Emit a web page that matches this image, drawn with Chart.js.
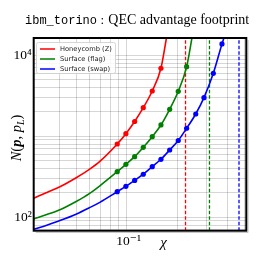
<!DOCTYPE html>
<html><head><meta charset="utf-8">
<script src="https://cdn.jsdelivr.net/npm/chart.js@4"></script>
<style>html,body{margin:0;padding:0;background:#fff}#wrap{width:268px;height:259px;position:relative}</style>
</head><body><div id="wrap"><canvas id="c"></canvas></div>
<script>
// ---- data ----
const seriesLabels = ['Honeycomb (Z)', 'Surface (flag)', 'Surface (swap)'];
const seriesColors = ['#ff0000', '#008000', '#0000ff'];

const markerChi = [0.0879, 0.0990, 0.1116, 0.1256, 0.1420, 0.1600, 0.1803, 0.2028, 0.2275, 0.2576, 0.2884, 0.3278, 0.3690];
const honeycombMarkerN = [803, 1077, 1523, 2255, 3624, 6918];
const flagMarkerN = [366, 451, 560, 731, 989, 1380, 2154, 3594, 7230];
const swapMarkerN = [207, 241, 285, 340, 421, 520, 677, 887, 1256, 1885, 2998, 5995, 13800];

const honeycombCurveChi = [0.028, 0.0335, 0.0401, 0.0504, 0.0600, 0.0693, 0.0879, 0.0990, 0.1116, 0.1256, 0.1420, 0.1600, 0.1738];
const honeycombCurveN = [172, 202, 238, 310, 390, 490, 803, 1077, 1523, 2255, 3624, 6918, 17810];
const flagCurveChi = [0.028, 0.0335, 0.0401, 0.0504, 0.0600, 0.0693, 0.0879, 0.0990, 0.1116, 0.1256, 0.1420, 0.1600, 0.1803, 0.2028, 0.2275, 0.2464];
const flagCurveN = [95.3, 108, 124, 158, 196, 245, 366, 451, 560, 731, 989, 1380, 2154, 3594, 7230, 17810];
const swapCurveChi = [0.028, 0.0335, 0.0401, 0.0504, 0.0600, 0.0693, 0.0879, 0.0990, 0.1116, 0.1256, 0.1420, 0.1600, 0.1803, 0.2028, 0.2275, 0.2576, 0.2884, 0.3278, 0.3690, 0.382];
const swapCurveN = [71.1, 80, 91, 110, 131, 153, 207, 241, 285, 340, 421, 520, 677, 887, 1256, 1885, 2998, 5995, 13800, 17300];

const thresholdChi = [0.224, 0.311, 0.466];

const xMin = 0.028, xMax = 0.515, yMin = 68.3, yMax = 16350;
const xTickValues = [0.04, 0.05, 0.06, 0.07, 0.08, 0.09, 0.1, 0.2, 0.3, 0.4, 0.5];
const yTickValues = [70, 80, 90, 100, 200, 300, 400, 500, 600, 700, 800, 900, 1000, 2000, 3000, 4000, 5000, 6000, 7000, 8000, 9000, 10000];
const xTickLabels = {0.1: '10\u207B\u00B9'};
const yTickLabels = {100: '10\u00B2', 10000: '10\u2074'};

// ---- build datasets ----
const pts = (xs, ys) => xs.map((x, i) => ({x, y: ys[i]})).filter(p => p.y !== undefined);
const curves = [[honeycombCurveChi, honeycombCurveN], [flagCurveChi, flagCurveN], [swapCurveChi, swapCurveN]];
const markers = [honeycombMarkerN, flagMarkerN, swapMarkerN];
const datasets = [];
thresholdChi.forEach((t, i) => datasets.push({
  data: [{x: t, y: yMin}, {x: t, y: yMax}], borderColor: seriesColors[i], backgroundColor: seriesColors[i],
  borderWidth: 1.3, borderDash: [3.5, 2], pointRadius: 0, fill: false, order: 5
}));
curves.forEach((c, i) => datasets.push({
  label: seriesLabels[i], data: pts(c[0], c[1]), borderColor: seriesColors[i], backgroundColor: seriesColors[i],
  borderWidth: 1.6, pointRadius: 0, cubicInterpolationMode: 'monotone', fill: false, order: 2
}));
markers.forEach((m, i) => datasets.push({
  data: pts(markerChi.slice(0, m.length), m), showLine: false, pointRadius: 2.6,
  pointBackgroundColor: seriesColors[i], pointBorderWidth: 0, borderColor: seriesColors[i], order: 1
}));

const serif = '"Liberation Serif", "DejaVu Serif", serif';

const decor = {
  id: 'decor',
  afterDatasetsDraw(chart) {
    const ctx = chart.ctx, a = chart.chartArea;
    ctx.save();
    // faint outer shadow line + frame
    ctx.strokeStyle = 'rgba(0,0,0,0.22)'; ctx.lineWidth = 1;
    ctx.beginPath(); ctx.moveTo(a.right + 1.8, a.top + 2); ctx.lineTo(a.right + 1.8, a.bottom + 1.8); ctx.lineTo(a.left + 2, a.bottom + 1.8); ctx.stroke();
    ctx.strokeStyle = '#000'; ctx.lineWidth = 2;
    ctx.strokeRect(a.left, a.top, a.right - a.left, a.bottom - a.top);
    // legend
    const lx = 36.5, ly = 42.5, lw = 79, lh = 31;
    ctx.beginPath();
    ctx.roundRect(lx, ly, lw, lh, 2);
    ctx.fillStyle = 'rgba(255,255,255,0.85)'; ctx.fill();
    ctx.strokeStyle = '#cccccc'; ctx.lineWidth = 0.8; ctx.stroke();
    ctx.font = '6.7px "DejaVu Sans"'; ctx.textBaseline = 'middle'; ctx.textAlign = 'left';
    seriesLabels.forEach((lab, i) => {
      const y = 49 + i * 10;
      ctx.strokeStyle = seriesColors[i]; ctx.lineWidth = 1.5;
      ctx.beginPath(); ctx.moveTo(40, y); ctx.lineTo(55, y); ctx.stroke();
      ctx.fillStyle = '#222'; ctx.fillText(lab, 60, y + 0.5);
    });
    ctx.restore();
  },
  afterDraw(chart) {
    const ctx = chart.ctx;
    ctx.save();
    ctx.fillStyle = '#000'; ctx.textBaseline = 'alphabetic'; ctx.textAlign = 'left';
    // title
    ctx.font = '12px "Liberation Mono", "DejaVu Sans Mono", monospace';
    ctx.fillText('ibm_torino', 25, 24);
    ctx.font = '13px ' + serif;
    ctx.fillText(':', 100.5, 24);
    const t = 'QEC advantage footprint';
    let w = ctx.measureText(t).width;
    const fs = 13 * 141 / w;
    ctx.font = fs.toFixed(2) + 'px ' + serif;
    ctx.fillText(t, 108.3, 24);
    // x label
    ctx.font = 'italic 15px ' + serif;
    ctx.textAlign = 'center';
    ctx.fillText('\u03C7', 163.5, 247);
    // y label (rotated)
    ctx.translate(20.5, 138);
    ctx.rotate(-Math.PI / 2);
    const parts = [
      ['italic 14.5px ' + serif, 'N', 0], ['14.5px ' + serif, '(', 0], ['bold italic 14.5px ' + serif, 'p', 0],
      ['14.5px ' + serif, ', ', 0], ['italic 14.5px ' + serif, 'p', 0], ['italic 10px ' + serif, 'L', 3],
      ['14.5px ' + serif, ')', 0]
    ];
    let total = 0;
    parts.forEach(p => { ctx.font = p[0]; total += ctx.measureText(p[1]).width; });
    let x = -total / 2;
    ctx.textAlign = 'left';
    parts.forEach(p => { ctx.font = p[0]; ctx.fillText(p[1], x, p[2]); x += ctx.measureText(p[1]).width; });
    ctx.restore();
  }
};

const gridColor = 'rgba(0,0,0,0.16)';
new Chart(document.getElementById('c'), {
  type: 'line',
  data: {datasets},
  options: {
    responsive: true, maintainAspectRatio: false, animation: false,
    layout: {padding: {left: 0, right: 21.7, top: 38, bottom: 0}},
    plugins: {legend: {display: false}, title: {display: false}, tooltip: {enabled: false}},
    scales: {
      x: {
        type: 'logarithmic', min: xMin, max: xMax,
        afterBuildTicks: s => { s.ticks = xTickValues.map(v => ({value: v})); },
        afterFit: s => { s.height = 28.3; },
        grid: {color: gridColor, lineWidth: 1, drawTicks: false},
        border: {display: false},
        ticks: {autoSkip: false, maxRotation: 0, padding: 3, labelOffset: 2, color: '#000',
          font: {family: serif, size: 13.5},
          callback: v => xTickLabels[v] || ''}
      },
      y: {
        type: 'logarithmic', min: yMin, max: yMax,
        afterBuildTicks: s => { s.ticks = yTickValues.map(v => ({value: v})); },
        afterFit: s => { s.width = 33.7; },
        grid: {color: gridColor, lineWidth: 1, drawTicks: false},
        border: {display: false},
        ticks: {autoSkip: false, padding: 2, color: '#000',
          font: {family: serif, size: 13.5},
          callback: v => yTickLabels[v] || ''}
      }
    }
  },
  plugins: [decor]
});
</script></body></html>
